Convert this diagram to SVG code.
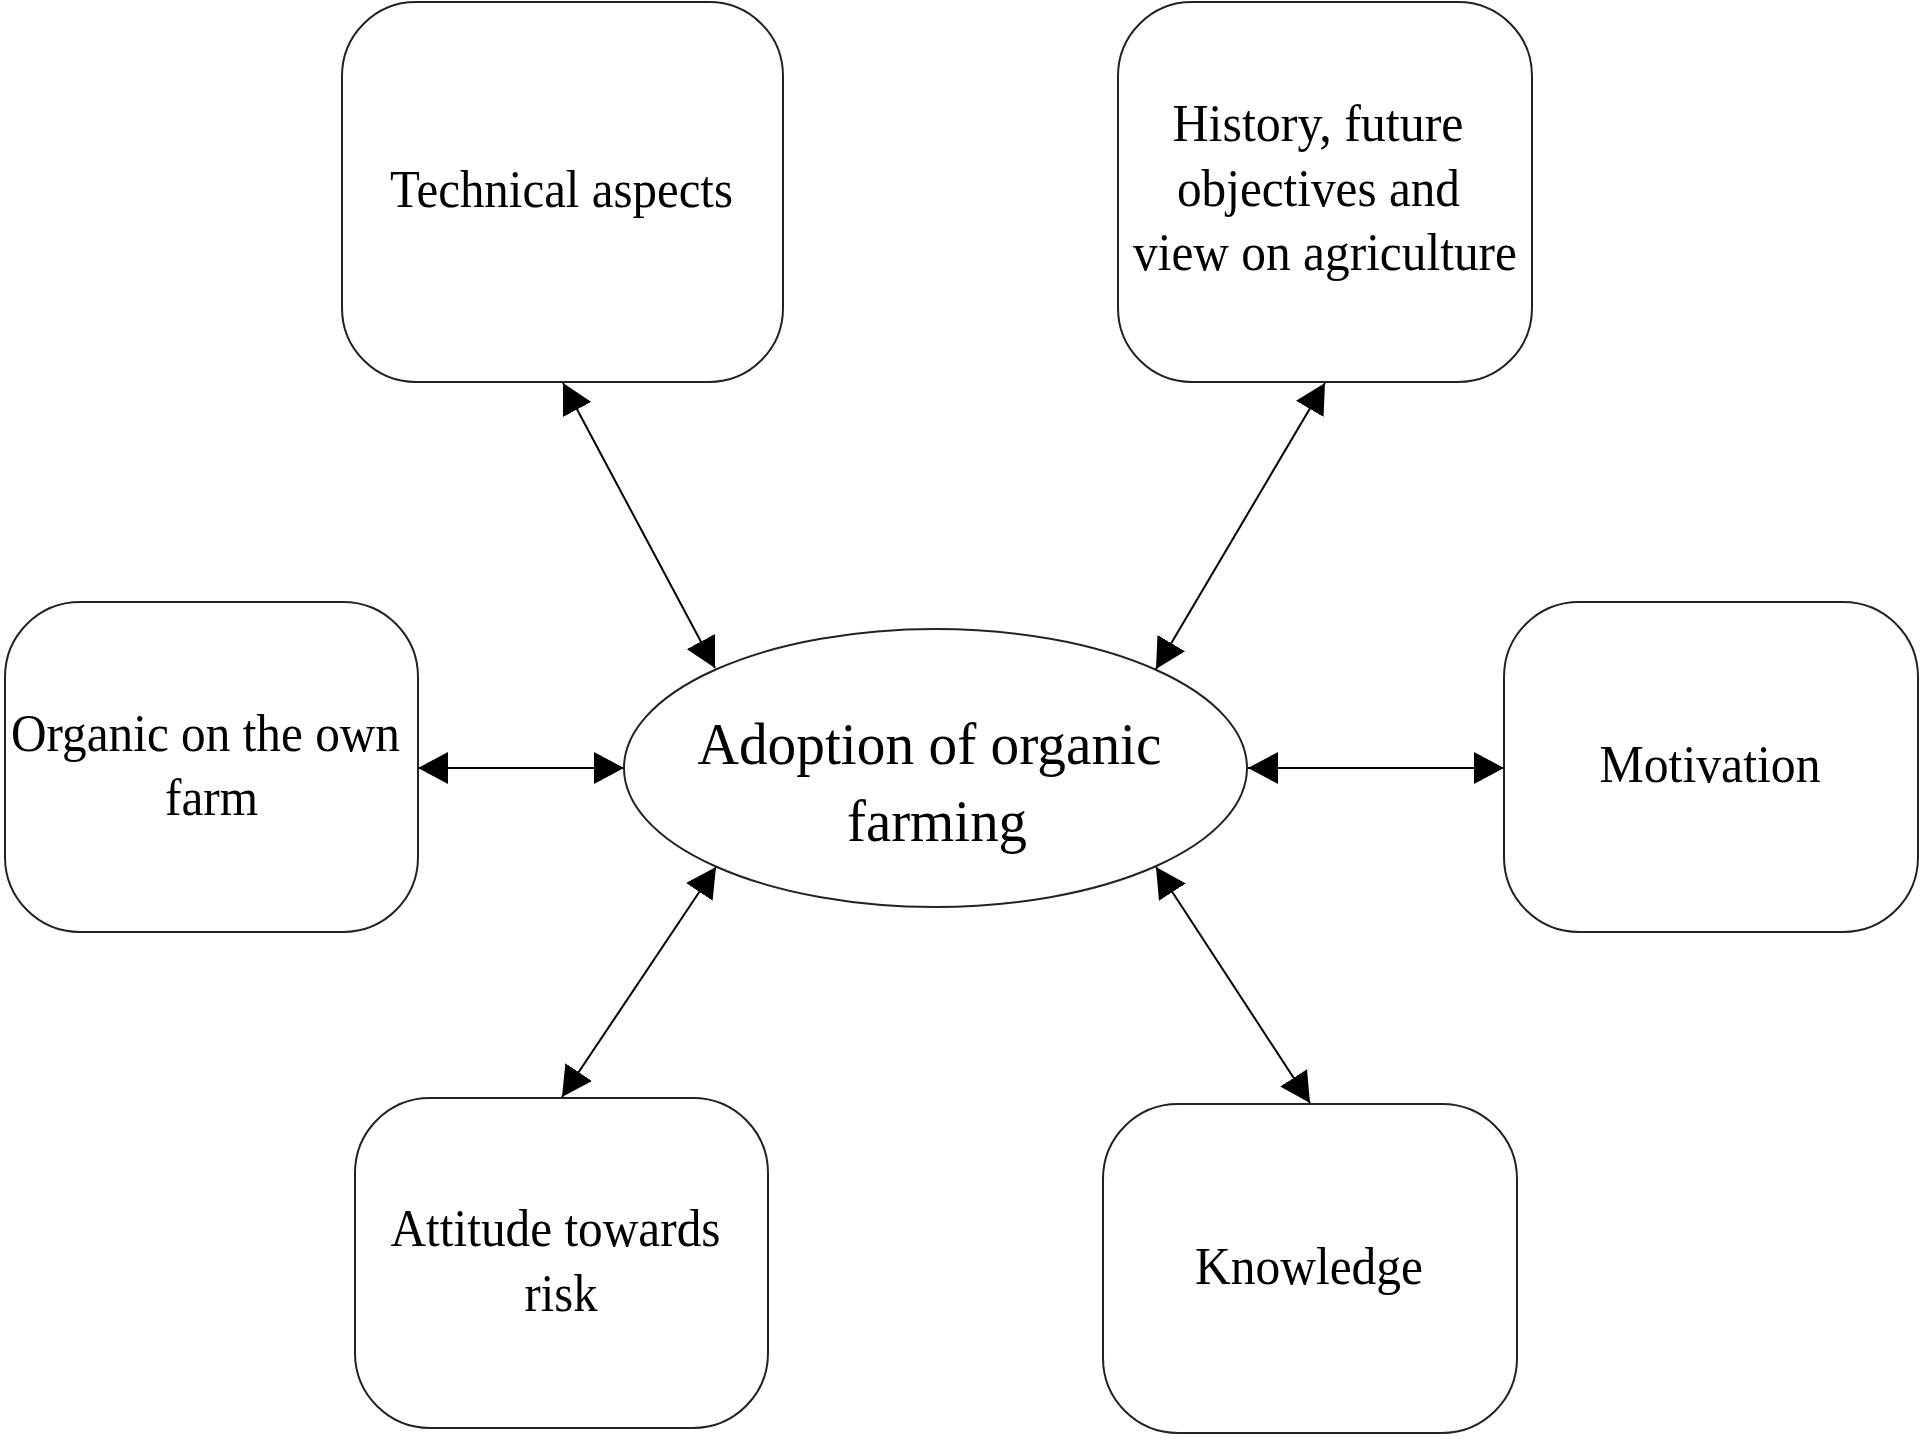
<svg xmlns="http://www.w3.org/2000/svg" width="1920" height="1440" viewBox="0 0 1920 1440">
<style>
.box{fill:#fff;stroke:#222;stroke-width:2}
.lbl{font-family:"Liberation Serif","Times New Roman",serif;font-size:53px;fill:#000;text-anchor:middle}
.big{font-family:"Liberation Serif","Times New Roman",serif;font-size:59px;fill:#000;text-anchor:middle}
.con{stroke:#000;stroke-width:2;fill:none;marker-start:url(#ah);marker-end:url(#ah)}
</style>
<defs>
<marker id="ah" markerUnits="userSpaceOnUse" markerWidth="30" markerHeight="32" refX="30" refY="16" orient="auto-start-reverse" viewBox="0 0 30 32"><path d="M0,0 L30,16 L0,32 z" fill="#000"/></marker>
</defs>
<rect width="1920" height="1440" fill="#fff"/>
<g id="connectors">
<line class="con" x1="563" y1="383" x2="715" y2="668"/>
<line class="con" x1="1325" y1="383" x2="1156" y2="669"/>
<line class="con" x1="418" y1="768" x2="624" y2="768"/>
<line class="con" x1="1248" y1="768" x2="1504" y2="768"/>
<line class="con" x1="562" y1="1097" x2="716" y2="867"/>
<line class="con" x1="1310" y1="1103" x2="1156" y2="867"/>
</g>
<g id="technical">
<rect class="box" x="342" y="2" width="441" height="380" rx="74" ry="74"/>
<text class="lbl" x="561.5" y="207" textLength="343" lengthAdjust="spacingAndGlyphs">Technical aspects</text>
</g>
<g id="history">
<rect class="box" x="1118" y="2" width="414" height="380" rx="74" ry="74"/>
<text class="lbl" x="1318" y="141" textLength="291" lengthAdjust="spacingAndGlyphs">History, future</text>
<text class="lbl" x="1318.5" y="205.5" textLength="283" lengthAdjust="spacingAndGlyphs">objectives and</text>
<text class="lbl" x="1325" y="270" textLength="384" lengthAdjust="spacingAndGlyphs">view on agriculture</text>
</g>
<g id="organic">
<rect class="box" x="5" y="602" width="413" height="330" rx="75" ry="75"/>
<text class="lbl" x="205.5" y="751" textLength="389" lengthAdjust="spacingAndGlyphs">Organic on the own</text>
<text class="lbl" x="211.5" y="815" textLength="93" lengthAdjust="spacingAndGlyphs">farm</text>
</g>
<g id="adoption">
<ellipse class="box" cx="935.5" cy="768" rx="311.5" ry="139"/>
<text class="big" x="929.5" y="764" textLength="464" lengthAdjust="spacingAndGlyphs">Adoption of organic</text>
<text class="big" x="937" y="841" textLength="180" lengthAdjust="spacingAndGlyphs">farming</text>
</g>
<g id="motivation">
<rect class="box" x="1504" y="602" width="414" height="330" rx="75" ry="75"/>
<text class="lbl" x="1710" y="782" textLength="221" lengthAdjust="spacingAndGlyphs">Motivation</text>
</g>
<g id="attitude">
<rect class="box" x="355" y="1098" width="413" height="330" rx="75" ry="75"/>
<text class="lbl" x="555.5" y="1245.5" textLength="330" lengthAdjust="spacingAndGlyphs">Attitude towards</text>
<text class="lbl" x="561" y="1310.5" textLength="73" lengthAdjust="spacingAndGlyphs">risk</text>
</g>
<g id="knowledge">
<rect class="box" x="1103" y="1104" width="414" height="329" rx="75" ry="75"/>
<text class="lbl" x="1309" y="1283.5" textLength="228" lengthAdjust="spacingAndGlyphs">Knowledge</text>
</g>
</svg>
